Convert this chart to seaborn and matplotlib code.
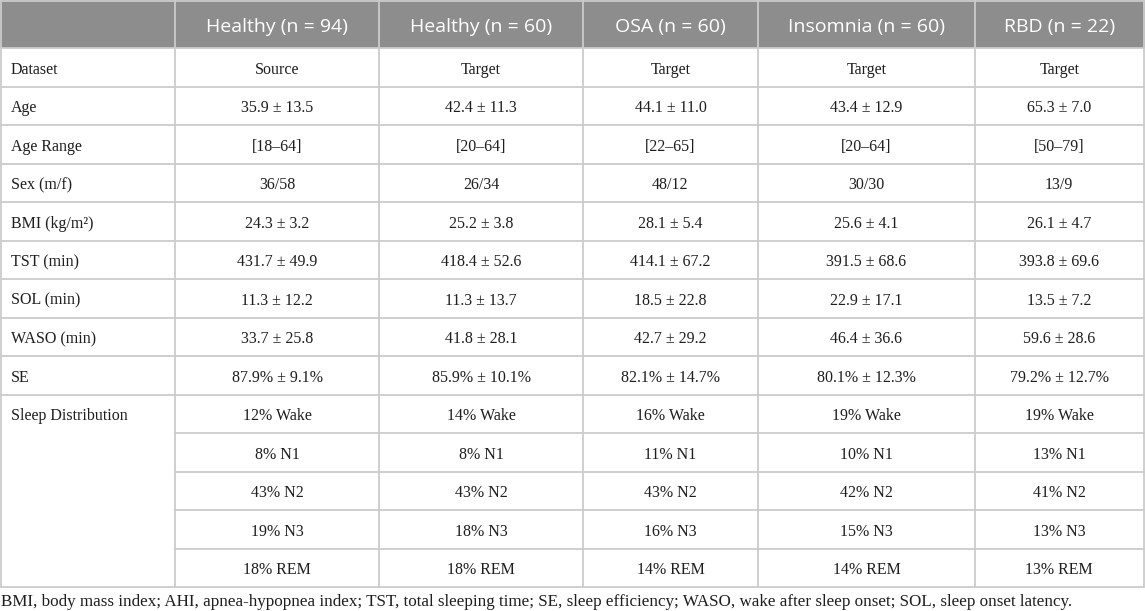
import matplotlib
matplotlib.use("Agg")
import matplotlib.pyplot as plt
import seaborn as sns

# ---------------- data ----------------
groups = ["Healthy (n = 94)", "Healthy (n = 60)", "OSA (n = 60)", "Insomnia (n = 60)", "RBD (n = 22)"]
dataset_role = ["Source", "Target", "Target", "Target", "Target"]
age_mean = [35.9, 42.4, 44.1, 43.4, 65.3]
age_sd = [13.5, 11.3, 11.0, 12.9, 7.0]
age_min = [18, 20, 22, 20, 50]
age_max = [64, 64, 65, 64, 79]
sex_m = [36, 26, 48, 30, 13]
sex_f = [58, 34, 12, 30, 9]
bmi_mean = [24.3, 25.2, 28.1, 25.6, 26.1]
bmi_sd = [3.2, 3.8, 5.4, 4.1, 4.7]
tst_mean = [431.7, 418.4, 414.1, 391.5, 393.8]
tst_sd = [49.9, 52.6, 67.2, 68.6, 69.6]
sol_mean = [11.3, 11.3, 18.5, 22.9, 13.5]
sol_sd = [12.2, 13.7, 22.8, 17.1, 7.2]
waso_mean = [33.7, 41.8, 42.7, 46.4, 59.6]
waso_sd = [25.8, 28.1, 29.2, 36.6, 28.6]
se_mean = [87.9, 85.9, 82.1, 80.1, 79.2]
se_sd = [9.1, 10.1, 14.7, 12.3, 12.7]
stages = ["Wake", "N1", "N2", "N3", "REM"]
stage_pct = {
    "Wake": [12, 14, 16, 19, 19],
    "N1": [8, 8, 11, 10, 13],
    "N2": [43, 43, 43, 42, 41],
    "N3": [19, 18, 16, 15, 13],
    "REM": [18, 18, 14, 14, 13],
}
row_labels = ["Dataset", "Age", "Age Range", "Sex (m/f)", "BMI (kg/m²)", "TST (min)",
              "SOL (min)", "WASO (min)", "SE", "Sleep Distribution"]
footnote = ("BMI, body mass index; AHI, apnea-hypopnea index; TST, total sleeping time; "
            "SE, sleep efficiency; WASO, wake after sleep onset; SOL, sleep onset latency.")

# ---------------- build cell text ----------------
def pm(m, s, fmt="{:.1f}"):
    return [f"{fmt.format(a)} ± {fmt.format(b)}" for a, b in zip(m, s)]

rows = [
    dataset_role,
    pm(age_mean, age_sd),
    [f"[{a}–{b}]" for a, b in zip(age_min, age_max)],
    [f"{a}/{b}" for a, b in zip(sex_m, sex_f)],
    pm(bmi_mean, bmi_sd),
    pm(tst_mean, tst_sd),
    pm(sol_mean, sol_sd),
    pm(waso_mean, waso_sd),
    [f"{a:.1f}% ± {b:.1f}%" for a, b in zip(se_mean, se_sd)],
]
for st in stages:
    rows.append([f"{p}% {st}" for p in stage_pct[st]])

# ---------------- layout ----------------
sns.set_theme(style="white")
plt.rcParams["font.family"] = ["Liberation Serif", "DejaVu Serif"]

W, H = 1145, 611
fig = plt.figure(figsize=(W / 100, H / 100), dpi=100)
ax = fig.add_axes([0, 0, 1, 1])
ax.set_xlim(0, W)
ax.set_ylim(H, 0)
ax.axis("off")

col_x = [0.5, 175, 379, 583, 758, 975, 1143.5]
header_h = 48
row_h = 38.5
n_rows = len(rows)
bottom = header_h + n_rows * row_h

head_col = "#8d8d8d"
line_col = "#cbcbcb"
txt_col = "#1e1e1e"
fs = 11.5

ax.add_patch(plt.Rectangle((0, 0), W, header_h, color=head_col, lw=0, zorder=1))
for j, g in enumerate(groups):
    cx = (col_x[j + 1] + col_x[j + 2]) / 2
    ax.text(cx, header_h / 2 + 1, g, ha="center", va="center_baseline", color="white",
            fontsize=14, family=["Open Sans", "DejaVu Sans"], zorder=3)

# body text
first_stage_row = len(rows) - len(stages)
for i, r in enumerate(rows):
    cy = header_h + (i + 0.5) * row_h + 0.5
    if i < len(row_labels) - 1:
        lab = row_labels[i]
    elif i == first_stage_row:
        lab = row_labels[-1]
    else:
        lab = None
    if lab:
        ax.text(11, cy, lab, ha="left", va="center_baseline", color=txt_col, fontsize=fs, zorder=3)
    for j, v in enumerate(r):
        cx = (col_x[j + 1] + col_x[j + 2]) / 2
        ax.text(cx, cy, v, ha="center", va="center_baseline", color=txt_col, fontsize=fs, zorder=3)

# grid lines
lw = 1.3
for i in range(n_rows + 1):
    y = header_h + i * row_h
    x0 = col_x[0]
    if first_stage_row < i < n_rows:
        x0 = col_x[1]
    ax.plot([x0, col_x[-1]], [y, y], color=line_col, lw=lw, zorder=2)
for x in col_x:
    ax.plot([x, x], [0, bottom], color=line_col, lw=lw, zorder=2)
ax.plot([col_x[0], col_x[-1]], [0.5, 0.5], color=line_col, lw=lw, zorder=2)

ax.text(1, 600.5, footnote, ha="left", va="center_baseline", color=txt_col, fontsize=12.25, zorder=3)

fig.savefig("out.png", dpi=100)
